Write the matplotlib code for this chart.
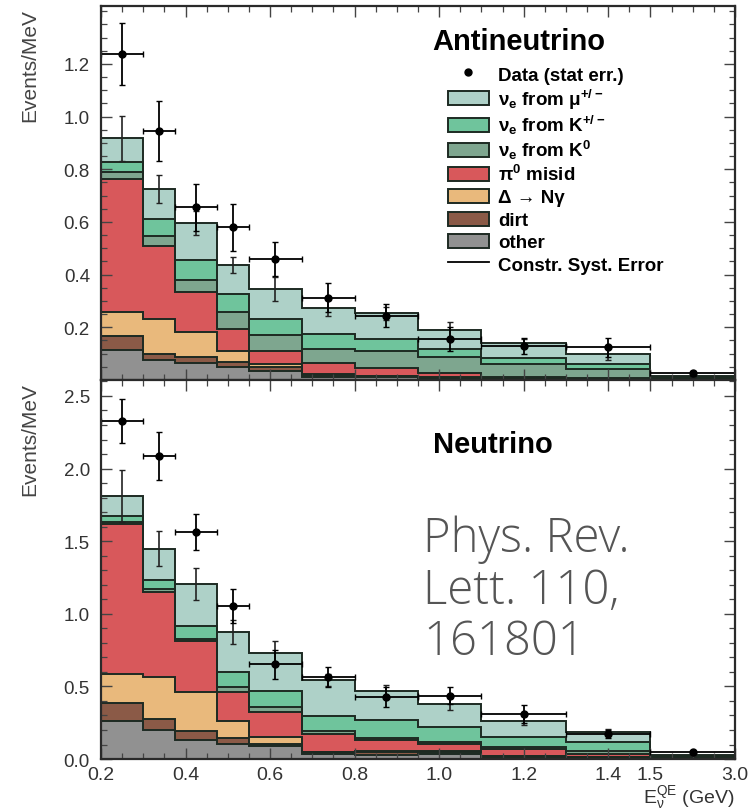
import numpy as np
import matplotlib
matplotlib.use("Agg")
import matplotlib.pyplot as plt
from matplotlib.patches import Patch, Rectangle
from matplotlib.lines import Line2D
from matplotlib.legend_handler import HandlerPatch
from matplotlib.ticker import FixedLocator, NullFormatter

plt.rcParams['font.family'] = ['Liberation Sans', 'DejaVu Sans']
plt.rcParams['mathtext.fontset'] = 'dejavusans'
plt.rcParams['mathtext.default'] = 'regular'

# Bin edges (GeV)
edges = [0.2, 0.3, 0.375, 0.475, 0.55, 0.675, 0.8, 0.95, 1.1, 1.3, 1.5, 3.0]

# Antineutrino mode: cumulative stack tops, bottom to top
anti_other = [0.114, 0.076, 0.063, 0.050, 0.036, 0.013, 0.010, 0.006, 0.003, 0.002, 0.002]
anti_dirt = [0.168, 0.099, 0.086, 0.070, 0.050, 0.019, 0.014, 0.009, 0.005, 0.003, 0.003]
anti_delta = [0.257, 0.231, 0.183, 0.111, 0.062, 0.023, 0.016, 0.011, 0.006, 0.004, 0.004]
anti_pi0 = [0.763, 0.510, 0.333, 0.192, 0.111, 0.063, 0.045, 0.025, 0.010, 0.007, 0.006]
anti_k0 = [0.788, 0.545, 0.381, 0.260, 0.170, 0.118, 0.111, 0.086, 0.061, 0.042, 0.010]
anti_kpm = [0.829, 0.611, 0.456, 0.327, 0.232, 0.176, 0.156, 0.118, 0.083, 0.061, 0.013]
anti_mu = [0.917, 0.725, 0.595, 0.438, 0.346, 0.272, 0.253, 0.190, 0.140, 0.099, 0.016]
anti_syst = [0.085, 0.052, 0.045, 0.030, 0.045, 0.030, 0.025, 0.030, 0.015, 0.025, 0.008]
anti_data = [1.237, 0.946, 0.655, 0.579, 0.459, 0.313, 0.244, 0.156, 0.130, 0.124, 0.025]
anti_err = [0.117, 0.115, 0.090, 0.090, 0.065, 0.055, 0.044, 0.045, 0.030, 0.035, 0.008]

# Neutrino mode
nu_other = [0.264, 0.202, 0.133, 0.103, 0.087, 0.034, 0.030, 0.035, 0.010, 0.006, 0.004]
nu_dirt = [0.386, 0.276, 0.195, 0.143, 0.103, 0.046, 0.045, 0.050, 0.018, 0.012, 0.006]
nu_delta = [0.586, 0.563, 0.460, 0.264, 0.149, 0.051, 0.055, 0.055, 0.022, 0.015, 0.007]
nu_pi0 = [1.621, 1.149, 0.816, 0.460, 0.322, 0.172, 0.130, 0.105, 0.069, 0.034, 0.012]
nu_k0 = [1.635, 1.172, 0.828, 0.494, 0.356, 0.195, 0.145, 0.115, 0.080, 0.053, 0.016]
nu_kpm = [1.674, 1.230, 0.913, 0.598, 0.471, 0.294, 0.269, 0.218, 0.154, 0.115, 0.022]
nu_mu = [1.811, 1.448, 1.202, 0.874, 0.731, 0.545, 0.471, 0.379, 0.264, 0.185, 0.030]
nu_syst = [0.18, 0.12, 0.11, 0.08, 0.08, 0.04, 0.04, 0.04, 0.03, 0.02, 0.01]
nu_data = [2.326, 2.085, 1.563, 1.057, 0.651, 0.563, 0.425, 0.437, 0.310, 0.172, 0.046]
nu_err = [0.153, 0.165, 0.126, 0.117, 0.10, 0.07, 0.07, 0.06, 0.06, 0.03, 0.01]

labels = [r'$\nu_e$ from $\mu^{+/-}$', r'$\nu_e$ from K$^{+/-}$', r'$\nu_e$ from K$^0$',
          r'$\pi^0$ misid', 'Δ → Nγ', 'dirt', 'other']
colors = ['#aed1c8', '#6fc49c', '#7ea68f', '#d8585b', '#e9b97c', '#8b5a47', '#919191']
EDGE = '#1d2a22'
TXT = '#333333'


# x axis: linear up to 1.5 GeV, last bin 1.5-3.0 squeezed into 0.2 GeV width
def fwd(x):
    x = np.asarray(x, dtype=float)
    return np.where(x <= 1.5, x, 1.5 + (x - 1.5) * 0.2 / 1.5)


def inv(y):
    y = np.asarray(y, dtype=float)
    return np.where(y <= 1.5, y, 1.5 + (y - 1.5) * 1.5 / 0.2)


# legend boxes a bit shorter than the row height
def small_rect(legend, orig_handle, xdescent, ydescent, width, height, fontsize):
    h = 0.7 * height
    return Rectangle((-xdescent, -ydescent + (height - h) / 2), width, h)


def draw_panel(ax, layers, syst, data, err, ymax, yticks):
    ax.set_xscale('function', functions=(fwd, inv))
    ax.set_xlim(0.2, 3.0)
    ax.set_ylim(0, ymax)

    # stacked components: fills first, then the outline of each layer
    tops = layers[::-1]  # other ... mu
    bottoms = [np.zeros(len(tops[0]))] + [np.array(t) for t in tops[:-1]]
    cols = colors[::-1]
    for top, bot, c in zip(tops, bottoms, cols):
        ax.stairs(top, edges, baseline=bot, fill=True, color=c, lw=0)
    for top in tops:
        ax.stairs(top, edges, baseline=None, color=EDGE, lw=1.4)

    e = np.array(edges)
    centers = (e[:-1] + e[1:]) / 2
    halfw = (e[1:] - e[:-1]) / 2

    # constrained systematic error on the prediction
    ax.errorbar(centers, tops[-1], yerr=syst, fmt='none', ecolor='#222222',
                elinewidth=1.2, capsize=2)
    # data with stat errors
    ax.errorbar(centers, data, xerr=halfw, yerr=err, fmt='o', color='black',
                ms=5, elinewidth=1.3, capsize=2)

    # ticks
    ax.xaxis.set_major_locator(FixedLocator([0.2, 0.4, 0.6, 0.8, 1.0, 1.2, 1.4, 1.5, 3.0]))
    ax.xaxis.set_minor_locator(FixedLocator(list(np.arange(0.25, 1.5, 0.05)) + [1.875, 2.25, 2.625]))
    ax.yaxis.set_major_locator(FixedLocator(yticks))
    ax.tick_params(which='both', direction='in', top=True, right=True, colors='#444444',
                   labelcolor=TXT)
    ax.tick_params(axis='y', labelsize=13.5, pad=8)
    ax.tick_params(which='major', length=8, width=1)
    ax.tick_params(which='minor', length=4, width=0.9)
    for s in ax.spines.values():
        s.set_linewidth(1.6)
        s.set_color('#2a2a2a')
    ax.set_ylabel('Events/MeV', loc='top', color='#444444', fontsize=15)
    ax.yaxis.set_label_coords(-0.098, 0.995)


fig = plt.figure(figsize=(7.56, 8.12), dpi=100)
ax1 = fig.add_axes([0.1336, 0.5308, 0.8386, 0.4606])
ax2 = fig.add_axes([0.1336, 0.064, 0.8386, 0.4668])

anti_layers = [anti_mu, anti_kpm, anti_k0, anti_pi0, anti_delta, anti_dirt, anti_other]
nu_layers = [nu_mu, nu_kpm, nu_k0, nu_pi0, nu_delta, nu_dirt, nu_other]

draw_panel(ax1, anti_layers, anti_syst, anti_data, anti_err, 1.42, [0.2, 0.4, 0.6, 0.8, 1.0, 1.2])
ax1.yaxis.set_minor_locator(FixedLocator(np.arange(0.05, 1.42, 0.05)))
ax1.xaxis.set_major_formatter(NullFormatter())

draw_panel(ax2, nu_layers, nu_syst, nu_data, nu_err, 2.61, [0.0, 0.5, 1.0, 1.5, 2.0, 2.5])
ax2.yaxis.set_minor_locator(FixedLocator(np.arange(0.1, 2.61, 0.1)))
ax2.set_xticklabels(['0.2', '0.4', '0.6', '0.8', '1.0', '1.2', '1.4', '1.5', '3.0'])
ax2.tick_params(axis='x', labelsize=14, pad=5)
ax2.set_xlabel(r'E$_\nu^{QE}$ (GeV)', loc='right', fontsize=14, color=TXT, labelpad=1)

# panel titles
ax1.text(0.522, 0.906, 'Antineutrino', transform=ax1.transAxes, fontsize=21,
         fontweight='bold', va='center', ha='left')
ax2.text(0.524, 0.831, 'Neutrino', transform=ax2.transAxes, fontsize=21,
         fontweight='bold', va='center', ha='left')

# legend
handles = [Line2D([], [], marker='o', ls='none', color='black', ms=5)]
handles += [Patch(facecolor=c, edgecolor=EDGE, lw=1.4) for c in colors]
handles += [Line2D([], [], color='black', lw=1.3)]
leg_labels = ['Data (stat err.)'] + labels + ['Constr. Syst. Error']
ax1.legend(handles, leg_labels, loc='upper left', bbox_to_anchor=(0.547, 0.845),
           frameon=False, borderpad=0, borderaxespad=0, handlelength=2.2,
           handleheight=1.24, handletextpad=0.5, labelspacing=0.125,
           handler_map={Patch: HandlerPatch(patch_func=small_rect)},
           prop={'weight': 'bold', 'size': 13.5})

# citation overlay
fig.text(0.5595, (812 - 516) / 812, 'Phys. Rev.\nLett. 110,\n161801', fontsize=34,
         color='#555555', family=['Open Sans', 'DejaVu Sans'], fontweight='light',
         ha='left', va='top', linespacing=1.08)

fig.savefig('out.png', dpi=100)
